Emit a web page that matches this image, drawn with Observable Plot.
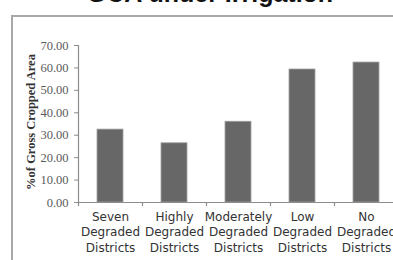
<!DOCTYPE html>
<html>
<head>
<meta charset="utf-8">
<script src="https://cdn.jsdelivr.net/npm/d3@7"></script>
<script src="https://cdn.jsdelivr.net/npm/@observablehq/plot@0.6"></script>
<style>
  html, body { margin: 0; padding: 0; background: #fff; }
  #wrap { position: relative; width: 393px; height: 260px; overflow: hidden; background: #fff; }
  #title { position: absolute; left: 0; width: 420px; text-align: center; top: -21px;
           font: bold 25px "Liberation Sans", Arial, sans-serif; color: #111; white-space: nowrap; }
  #box { position: absolute; left: 11px; top: 15px; width: 400px; height: 300px;
         border-top: 2px solid #a8a8a8; border-left: 2px solid #a8a8a8; }
  #chart { position: absolute; left: 0; top: 0; }
</style>
</head>
<body>
<div id="wrap">
  <div id="title">GCA under Irrigation</div>
  <div id="box"></div>
  <div id="chart"></div>
</div>
<script>
const categories = [
  "Seven\nDegraded\nDistricts",
  "Highly\nDegraded\nDistricts",
  "Moderately\nDegraded\nDistricts",
  "Low\nDegraded\nDistricts",
  "No\nDegraded\nDistricts"
];
const values = [32.5, 26.4, 36.0, 59.3, 62.4];
const yTicks = [0, 10, 20, 30, 40, 50, 60, 70];
const yLabel = "%of Gross Cropped Area";

const data = categories.map((c, i) => ({i, c, v: values[i]}));
const bounds = d3.range(categories.length + 1);

const chart = Plot.plot({
  width: 393,
  height: 260,
  marginTop: 45,
  marginBottom: 58,
  marginLeft: 78,
  marginRight: 0,
  style: {background: "transparent", overflow: "visible"},
  x: {domain: [0, categories.length], range: [78, 398], axis: null},
  y: {domain: [0, 70], axis: null},
  marks: [
    Plot.rectY(data, {x1: "i", x2: d => d.i + 1, y: "v", fill: "#676767", stroke: "#a0a0a0", strokeWidth: 0.8, insetLeft: 19, insetRight: 19}),
    Plot.ruleY([0], {stroke: "#8c8c8c", strokeWidth: 1.2}),
    Plot.ruleX(bounds, {y1: 0, y2: 0, insetBottom: -4, stroke: "#8c8c8c", strokeWidth: 1.2}),
    Plot.ruleX([0], {y1: 0, y2: 70, stroke: "#8c8c8c", strokeWidth: 1.2}),
    Plot.axisY({ticks: yTicks, tickFormat: d3.format(".2f"), tickSize: 4, tickPadding: 6,
      stroke: "#8c8c8c", fill: "#5a5a5a", fontSize: 12.5, fontFamily: "'Liberation Serif', 'Times New Roman', serif", label: null}),
    Plot.text([yLabel], {frameAnchor: "left", textAnchor: "middle", rotate: -90, dx: -48, dy: -2, fontWeight: "bold", fontSize: 12.5,
      fontFamily: "'Liberation Serif', 'Times New Roman', serif", fill: "#333"}),
    Plot.text(data, {x: d => d.i + 0.5, y: 0, text: "c", lineAnchor: "top", dy: 7, lineHeight: 1.3,
      fontSize: 12, fontFamily: "'DejaVu Sans', Verdana, sans-serif", fill: "#333"})
  ]
});
document.getElementById("chart").appendChild(chart);
</script>
</body>
</html>
